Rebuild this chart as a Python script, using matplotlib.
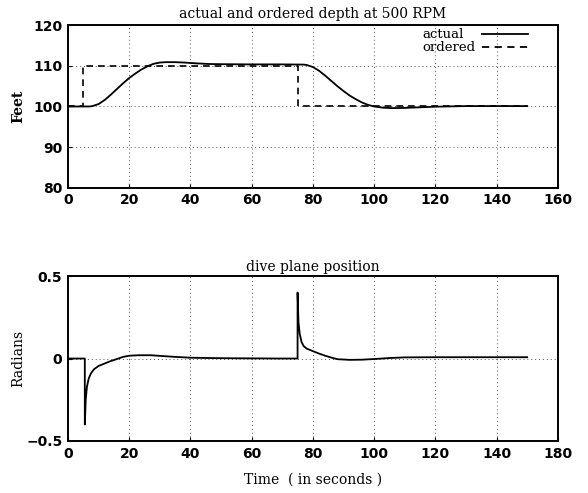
import matplotlib
matplotlib.use("Agg")
import matplotlib.pyplot as plt
from matplotlib.lines import Line2D

# ---- data ----
t_actual = [0, 7, 8, 10, 12, 14, 16, 18, 20, 22, 24, 26, 28, 30, 32, 35, 38, 42, 46, 50,
            60, 70, 77, 78, 80, 82, 84, 86, 88, 90, 92, 94, 96, 98, 100, 103, 106, 110,
            115, 120, 130, 150]
depth_actual = [100, 100, 100.1, 100.6, 101.6, 102.9, 104.3, 105.7, 107.0, 108.1, 109.1,
                109.9, 110.5, 110.8, 110.9, 110.9, 110.8, 110.6, 110.45, 110.4, 110.35,
                110.35, 110.3, 110.2, 109.7, 108.8, 107.6, 106.3, 105.0, 103.8, 102.7,
                101.8, 101.0, 100.4, 100.0, 99.7, 99.6, 99.65, 99.8, 99.95, 100.1, 100.1]
t_ordered = [0, 5, 5, 75, 75, 150]
depth_ordered = [100, 100, 110, 110, 100, 100]

t_plane = [0, 5.5, 5.5, 5.8, 6.2, 6.8, 7.5, 8.5, 10, 12, 14, 16, 18, 20, 23, 27, 31, 35,
           40, 50, 60, 70, 75, 75, 75.3, 75.7, 76.3, 77, 78, 80, 82, 84, 86, 88, 92, 96,
           100, 105, 110, 120, 150]
plane = [0, 0, -0.4, -0.25, -0.17, -0.12, -0.09, -0.065, -0.045, -0.03, -0.015, -0.003,
         0.01, 0.017, 0.02, 0.02, 0.015, 0.01, 0.005, 0.002, 0.001, 0, 0, 0.40, 0.22,
         0.15, 0.10, 0.075, 0.06, 0.045, 0.03, 0.017, 0.006, -0.004, -0.008, -0.007,
         -0.003, 0.003, 0.007, 0.008, 0.008]

legend_labels = ["actual", "ordered"]
top_xticks = [0, 20, 40, 60, 80, 100, 120, 140, 160]
top_xlabels = ["0", "20", "40", "60", "80", "100", "120", "140", "160"]
top_yticks = [80, 90, 100, 110, 120]
bot_xticks = [0, 20, 40, 60, 80, 100, 120, 140, 160]
bot_xlabels = ["0", "20", "40", "60", "80", "100", "120", "140", "180"]
bot_yticks = [-0.5, 0, 0.5]
bot_ylabels = ["\u22120.5", "0", "0.5"]

txtfont = "DejaVu Serif"
tickfont = "DejaVu Sans"

fig = plt.figure(figsize=(5.88, 4.93), dpi=100)
ax1 = fig.add_axes([0.1156, 0.619, 0.833, 0.330])
ax2 = fig.add_axes([0.1156, 0.1055, 0.833, 0.3345])

for ax in (ax1, ax2):
    ax.grid(True, linestyle=(0, (1, 3)), color="#555555", linewidth=0.7)
    for s in ax.spines.values():
        s.set_linewidth(1.4)
    ax.tick_params(direction="in", length=3, width=0.8, pad=4)

ls_actual = "-"
ls_ordered = (0, (4, 3))
ax1.plot(t_actual, depth_actual, color="black", lw=1.3)
ax1.plot(t_ordered, depth_ordered, color="black", lw=1.2, ls=ls_ordered)
ax1.set_xlim(0, 160)
ax1.set_ylim(80, 120)
ax1.set_xticks(top_xticks)
ax1.set_xticklabels(top_xlabels, family=tickfont, fontsize=10, fontweight="semibold")
ax1.set_yticks(top_yticks)
ax1.set_yticklabels([str(v) for v in top_yticks], family=tickfont, fontsize=10, fontweight="semibold")
ax1.set_title("actual and ordered depth at 500 RPM", family=txtfont, fontsize=10, pad=5)
ax1.set_ylabel("Feet", family=txtfont, fontsize=10, fontweight="bold")
ax1.yaxis.set_label_coords(-0.088, 0.5)

# legend: label text first, then line sample, text left-aligned
for lab, ls, ypos in zip(legend_labels, [ls_actual, ls_ordered], [0.945, 0.865]):
    ax1.text(0.7245, ypos, lab, transform=ax1.transAxes, family=txtfont, fontsize=9.5,
             va="center", ha="left")
    ax1.add_line(Line2D([0.845, 0.939], [ypos, ypos], transform=ax1.transAxes,
                        color="black", lw=1.3, ls=ls))

ax2.plot(t_plane, plane, color="black", lw=1.3)
ax2.set_xlim(0, 160)
ax2.set_ylim(-0.5, 0.5)
ax2.set_xticks(bot_xticks)
ax2.set_xticklabels(bot_xlabels, family=tickfont, fontsize=10, fontweight="semibold")
ax2.set_yticks(bot_yticks)
ax2.set_yticklabels(bot_ylabels, family=tickfont, fontsize=10, fontweight="semibold")
ax2.set_title("dive plane position", family=txtfont, fontsize=10, pad=4)
ax2.set_ylabel("Radians", family=txtfont, fontsize=10)
ax2.yaxis.set_label_coords(-0.088, 0.5)
ax2.set_xlabel("Time  ( in seconds )", family=txtfont, fontsize=10, labelpad=9)

fig.savefig("out.png", dpi=100)
